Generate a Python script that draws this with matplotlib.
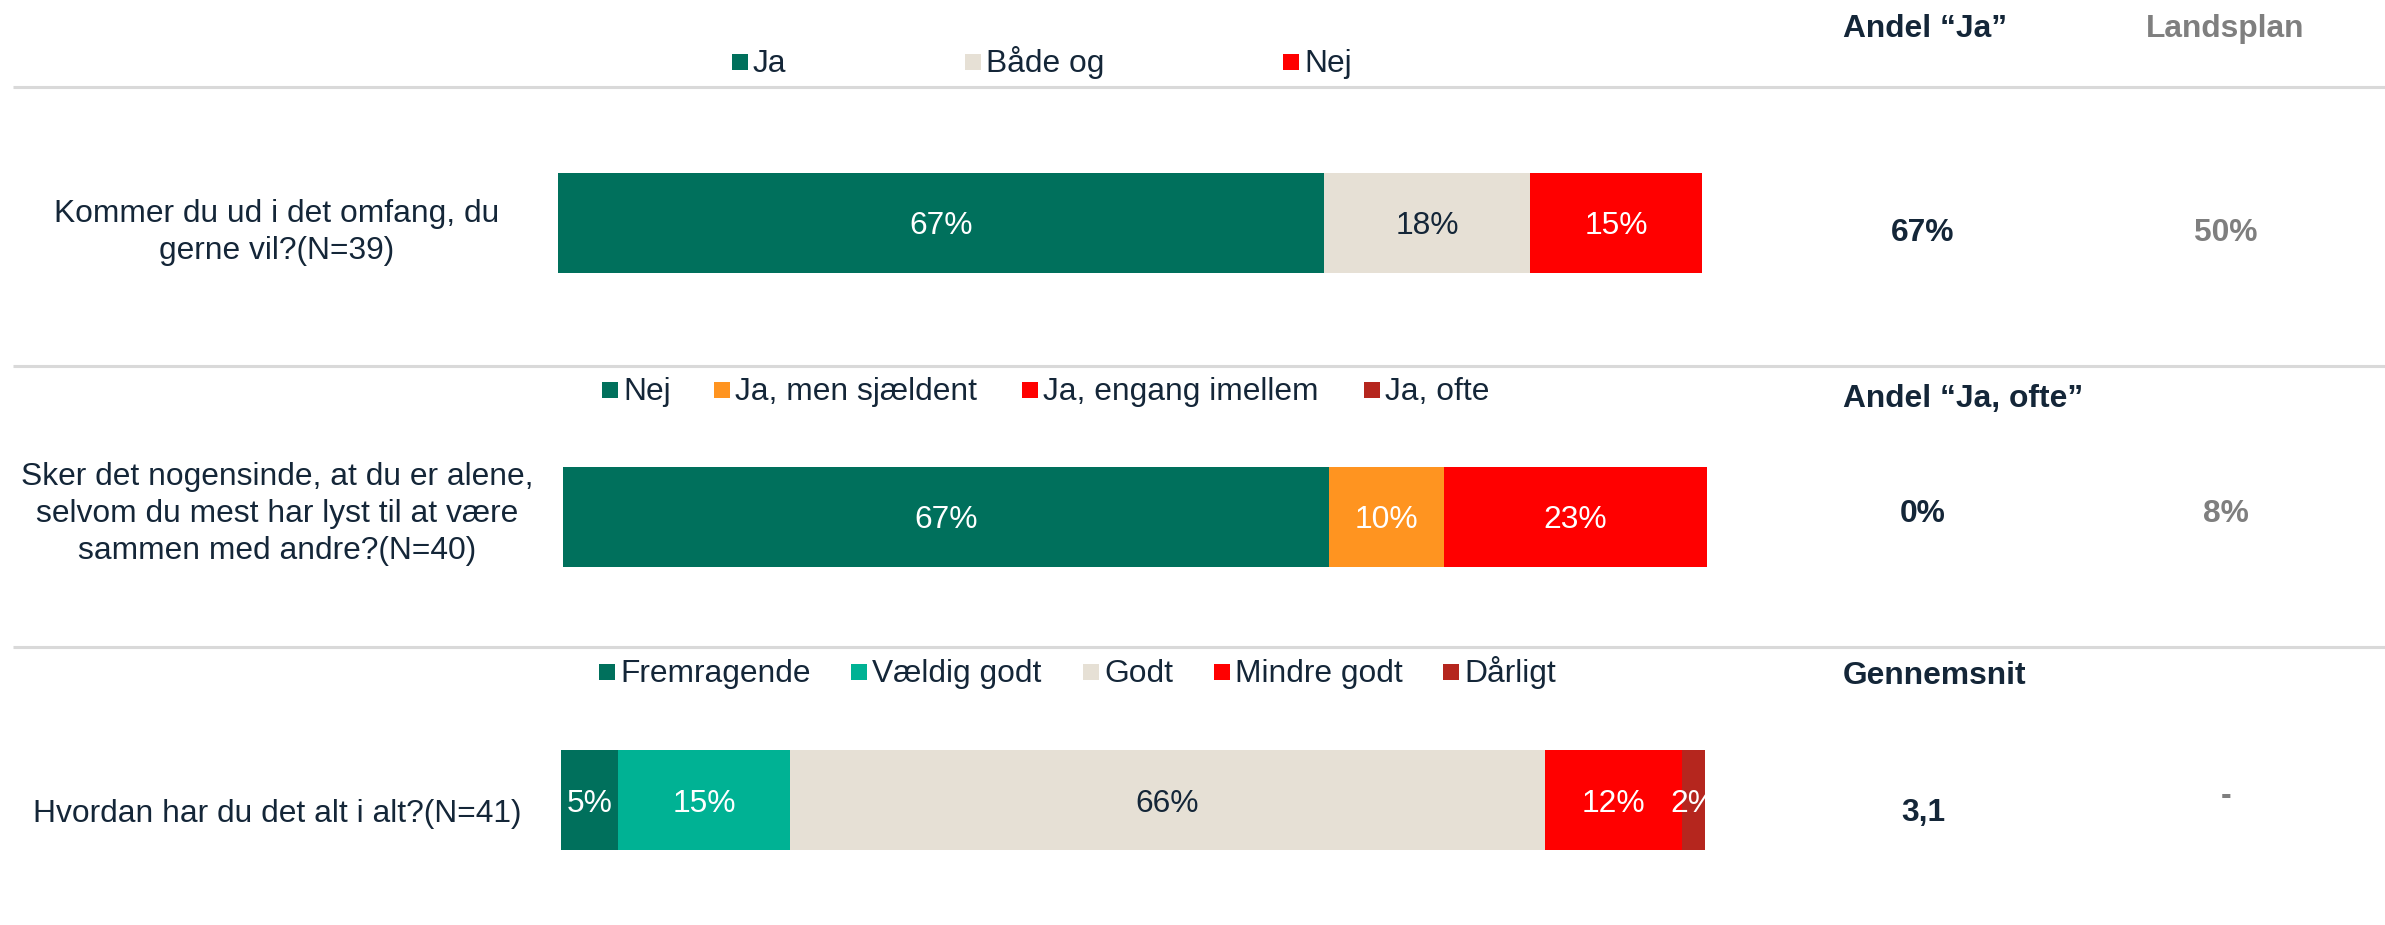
import matplotlib.pyplot as plt
from matplotlib.patches import Rectangle

plt.rcParams['font.family'] = ['Liberation Sans', 'DejaVu Sans']

# data
questions = ["Kommer du ud i det omfang, du\ngerne vil?(N=39)",
             "Sker det nogensinde, at du er alene,\nselvom du mest har lyst til at være\nsammen med andre?(N=40)",
             "Hvordan har du det alt i alt?(N=41)"]
cats_q1 = ["Ja", "Både og", "Nej"]
vals_q1 = [67, 18, 15]
cats_q2 = ["Nej", "Ja, men sjældent", "Ja, engang imellem", "Ja, ofte"]
vals_q2 = [67, 10, 23, 0]
cats_q3 = ["Fremragende", "Vældig godt", "Godt", "Mindre godt", "Dårligt"]
vals_q3 = [5, 15, 66, 12, 2]
key_headers = ['Andel \u201cJa\u201d', 'Andel \u201cJa, ofte\u201d', 'Gennemsnit']
key_values = ['67%', '0%', '3,1']
national_header = 'Landsplan'
national_values = ['50%', '8%', '-']

# style
W, H = 2385, 925
FS = 22.9
DARK = '#142638'
GREY = '#7F7F7F'
GREEN, BEIGE, RED = '#00705C', '#E6E0D5', '#FF0000'
ORANGE, DRED, TEAL = '#FF9420', '#B5261E', '#00B294'
colors = [[GREEN, BEIGE, RED],
          [GREEN, ORANGE, RED, DRED],
          [GREEN, TEAL, BEIGE, RED, DRED]]
txt_colors = [['white', DARK, 'white'],
              ['white', 'white', 'white', 'white'],
              ['white', 'white', DARK, 'white', 'white']]
cats = [cats_q1, cats_q2, cats_q3]
vals = [vals_q1, vals_q2, vals_q3]

row_center = [223, 517, 800]
bar_left = [558, 563, 561]
bar_right = [1702, 1707, 1705]
bar_h = 100
legend_marker_x = [[732, 965, 1283],
                   [602, 714, 1022, 1364],
                   [599, 851, 1083, 1214, 1443]]
legend_y = [62, 390, 672]
sep_y = [87, 366, 647]
header_base = [37, 407, 684]
value_base = [241, 522, 821]
national_base = [241, 522, 804]
question_base = [259, 559, 822]  # baseline of last line

fig = plt.figure(figsize=(W / 100, H / 100), dpi=100)

for i in range(3):
    yc = row_center[i]
    ax = fig.add_axes([bar_left[i] / W, 1 - (yc + bar_h / 2) / H,
                       (bar_right[i] - bar_left[i]) / W, bar_h / H])
    left = 0
    for v, c, tc in zip(vals[i], colors[i], txt_colors[i]):
        if v > 0:
            ax.barh(0, v, left=left, height=1.0, color=c, linewidth=0)
            ax.text(left + v / 2, 0, f'{v}%', ha='center', va='center_baseline',
                    color=tc, fontsize=FS, clip_on=False)
        left += v
    ax.set_xlim(0, 100)
    ax.set_ylim(-0.5, 0.5)
    ax.axis('off')

ov = fig.add_axes([0, 0, 1, 1])
ov.set_xlim(0, W)
ov.set_ylim(H, 0)
ov.axis('off')
ov.patch.set_alpha(0)

for y in sep_y:
    ov.plot([13, W], [y, y], color='#D9D9D9', lw=2.2, solid_capstyle='butt')

for i in range(3):
    ov.text(277, question_base[i], questions[i], ha='center', va='baseline',
            multialignment='center', fontsize=FS, color=DARK, linespacing=1.31)
    for name, mx, c in zip(cats[i], legend_marker_x[i], colors[i]):
        ov.add_patch(Rectangle((mx, legend_y[i] - 8), 16, 16, color=c, lw=0))
        ov.text(mx + 21, legend_y[i] + 10, name, ha='left', va='baseline',
                fontsize=FS, color=DARK)
    ov.text(1843, header_base[i], key_headers[i], ha='left', va='baseline',
            fontsize=FS, color=DARK, fontweight='bold')
    ov.text(1923, value_base[i], key_values[i], ha='center', va='baseline',
            fontsize=FS, color=DARK, fontweight='bold')
    ov.text(2226, national_base[i], national_values[i], ha='center', va='baseline',
            fontsize=FS, color=GREY, fontweight='bold')

ov.text(2225, header_base[0], national_header, ha='center', va='baseline',
        fontsize=FS, color=GREY, fontweight='bold')

fig.savefig('out.png', dpi=100)
